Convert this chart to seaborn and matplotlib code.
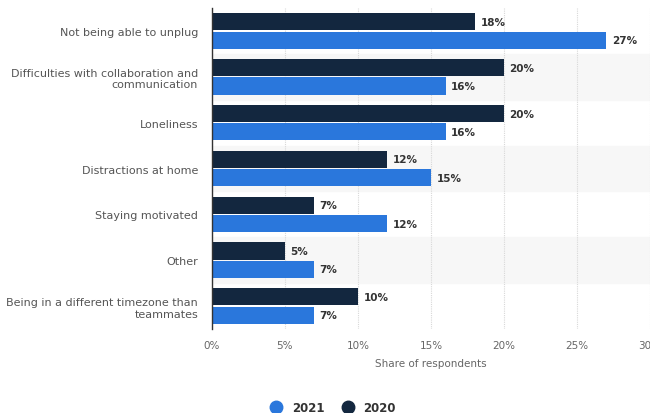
"""Remote work struggles, 2020 vs 2021 - horizontal grouped bars"""

import pandas as pd
import numpy as np
import matplotlib.pyplot as plt
import seaborn as sns
from matplotlib.lines import Line2D

categories = ['Not being able to unplug',
              'Difficulties with collaboration and\ncommunication',
              'Loneliness',
              'Distractions at home',
              'Staying motivated',
              'Other',
              'Being in a different timezone than\nteammates']
share_2020 = [18, 20, 20, 12, 7, 5, 10]
share_2021 = [27, 16, 16, 15, 12, 7, 7]
years = ['2020', '2021']
ticks = [0, 5, 10, 15, 20, 25, 30]

colors = {'2020': '#13273f', '2021': '#2a77dc'}

df = pd.DataFrame({'category': categories * 2,
                   'share': share_2020 + share_2021,
                   'year': ['2020'] * len(categories) + ['2021'] * len(categories)})

sns.set_style('white')
plt.rcParams['font.family'] = ['DejaVu Sans']

fig = plt.figure(figsize=(6.5, 4.14), dpi=100)
ax = fig.add_axes([0.326, 0.203, 0.674, 0.775])

# alternating row bands
for i in range(len(categories)):
    if i % 2 == 1:
        ax.axhspan(i - 0.5, i + 0.5, color='#f7f7f7', zorder=0)

sns.barplot(data=df, y='category', x='share', hue='year', hue_order=years,
            palette=colors, saturation=1, orient='h', width=0.8, gap=0.06,
            linewidth=0, ax=ax, zorder=3, legend=False)

for c in ax.containers:
    ax.bar_label(c, fmt='%d%%', padding=4, fontsize=7.5, fontweight='bold',
                 color='#333333')

ax.set_xlim(0, 30)
ax.set_ylim(len(categories) - 0.5, -0.5)
ax.set_xticks(ticks)
ax.set_xticklabels([f'{t}%' for t in ticks], color='#666666', fontsize=7.5)
ax.tick_params(axis='x', length=0, pad=8)
ax.tick_params(axis='y', length=0, pad=10)
ax.set_yticklabels(categories, color='#555555', fontsize=8, ha='right')
ax.set_ylabel('')
ax.set_xlabel('Share of respondents', color='#666666', fontsize=7.5, labelpad=6)
ax.xaxis.grid(True, linestyle=(0, (1, 1)), color='#d8d8d8', linewidth=0.8, zorder=1)
ax.set_axisbelow(True)
for s in ['top', 'right', 'bottom']:
    ax.spines[s].set_visible(False)
ax.spines['left'].set_color('#333333')
ax.spines['left'].set_linewidth(1)
ax.spines['left'].set_zorder(5)

handles = [Line2D([], [], marker='o', linestyle='', markersize=9,
                  markerfacecolor=colors[y], markeredgecolor=colors[y], label=y)
           for y in ['2021', '2020']]
fig.legend(handles=handles, loc='center', bbox_to_anchor=(0.508, 0.014), ncol=2,
           frameon=False, handletextpad=0.3, columnspacing=1.0,
           prop={'weight': 'bold', 'size': 8.5}, labelcolor='#333333')

fig.savefig('out.png', dpi=100)
